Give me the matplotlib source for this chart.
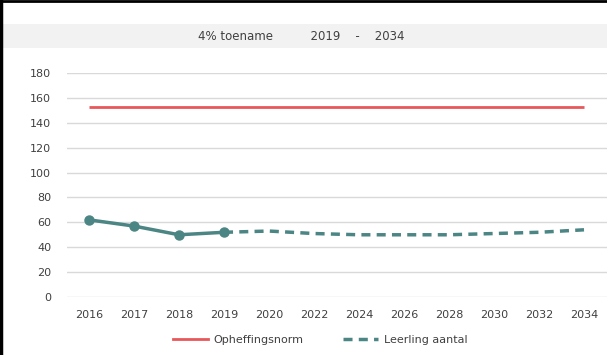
import matplotlib
matplotlib.use("Agg")
import matplotlib.pyplot as plt
from matplotlib.lines import Line2D
from matplotlib.patches import Rectangle

years = ["2016", "2017", "2018", "2019", "2020", "2022", "2024", "2026",
         "2028", "2030", "2032", "2034"]
history = [62, 57, 50, 52]                      # 2016-2019
forecast = [52, 53, 51, 50, 50, 50, 51, 52, 54]  # 2019-2034
norm = 153
title = "4% toename          2019    -    2034"

teal = "#4b8584"
red = "#e8585a"
grid = "#d9d9d9"
text = "#404040"

plt.rcParams["font.family"] = ["DejaVu Sans"]

fig = plt.figure(figsize=(6.07, 3.55), dpi=100)
fig.patch.set_facecolor("white")

# title band
fig.patches.append(Rectangle((3 / 607, 1 - 48 / 355), 1, 24 / 355,
                             transform=fig.transFigure, facecolor="#f2f2f2",
                             edgecolor="none", zorder=0))
fig.text(0.497, 1 - 36 / 355, title, ha="center", va="center",
         fontsize=8.5, color=text)

# frame on left and top
fig.add_artist(Line2D([1 / 607, 1 / 607], [0, 1], transform=fig.transFigure,
                      color="black", lw=2.5))
fig.add_artist(Line2D([0, 1], [1 - 0.8 / 355, 1 - 0.8 / 355],
                      transform=fig.transFigure, color="black", lw=2))

ax = fig.add_axes([66.5 / 607, 1 - 297 / 355, 540 / 607, 224 / 355])
x = list(range(len(years)))

ax.plot(x, [norm] * len(years), color=red, lw=2, solid_capstyle="butt",
        zorder=3)
ax.plot(x[3:], forecast, color=teal, lw=2.5, ls=(0, (2.6, 1.8)), zorder=3)
ax.plot(x[:4], history, color=teal, lw=2.5, marker="o", markersize=6.5,
        zorder=4)

ax.set_xlim(-0.5, len(years) - 0.5)
ax.set_ylim(0, 180)
ax.set_yticks(range(0, 181, 20))
ax.set_xticks(x)
ax.set_xticklabels(years)
ax.yaxis.grid(True, color=grid, lw=1)
ax.set_axisbelow(True)
for s in ax.spines.values():
    s.set_visible(False)
ax.tick_params(length=0, labelsize=8, colors=text, pad=9)
ax.tick_params(axis="y", pad=11)

handles = [Line2D([], [], color=red, lw=2),
           Line2D([], [], color=teal, lw=2.5, ls=(0, (2.6, 1.8)))]
fig.legend(handles, ["Opheffingsnorm", "Leerling aantal"],
           loc="center", bbox_to_anchor=(0.527, 1 - 340 / 355), ncol=2,
           frameon=False, fontsize=8, handlelength=3.2, columnspacing=3.5,
           handletextpad=0.5, labelcolor=text)

fig.savefig("out.png", dpi=100, facecolor="white")
